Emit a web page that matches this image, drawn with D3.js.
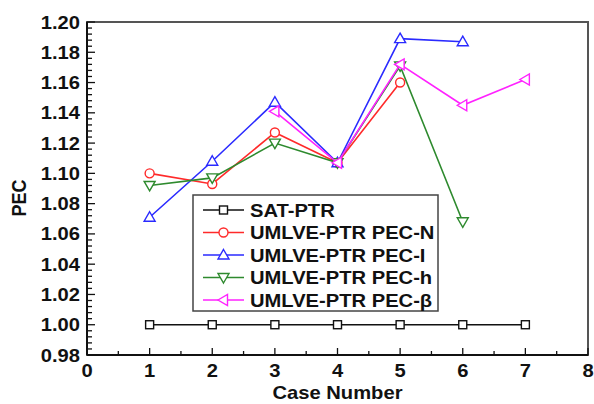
<!DOCTYPE html>
<html>
<head>
<meta charset="utf-8">
<script src="https://cdn.jsdelivr.net/npm/d3@7"></script>
<style>
  html, body { margin: 0; padding: 0; background: #fff; }
  svg { display: block; }
  text { font-family: "Liberation Sans", Arial, sans-serif; font-weight: bold; fill: #111; }
</style>
</head>
<body>
<svg id="chart" width="594" height="404"></svg>
<script>
// Case numbers and PEC values per configuration
const casesSAT = [1, 2, 3, 4, 5, 6, 7];
const valuesSAT = [1.000, 1.000, 1.000, 1.000, 1.000, 1.000, 1.000];

const casesN = [1, 2, 3, 4, 5];
const valuesN = [1.100, 1.093, 1.127, 1.107, 1.160];

const casesI = [1, 2, 3, 4, 5, 6];
const valuesI = [1.071, 1.108, 1.147, 1.107, 1.189, 1.187];

const casesH = [1, 2, 3, 4, 5, 6];
const valuesH = [1.092, 1.097, 1.120, 1.107, 1.171, 1.068];

const casesB = [3, 4, 5, 6, 7];
const valuesB = [1.141, 1.107, 1.172, 1.145, 1.162];

const seriesNames = ["SAT-PTR", "UMLVE-PTR PEC-N", "UMLVE-PTR PEC-I", "UMLVE-PTR PEC-h", "UMLVE-PTR PEC-\u03B2"];
const xTicks = [0, 1, 2, 3, 4, 5, 6, 7, 8];
const yTicks = [0.98, 1.00, 1.02, 1.04, 1.06, 1.08, 1.10, 1.12, 1.14, 1.16, 1.18, 1.20];

const series = [
  { name: seriesNames[0], xs: casesSAT, ys: valuesSAT, color: "#111111", marker: "square" },
  { name: seriesNames[1], xs: casesN, ys: valuesN, color: "#ff2a2a", marker: "circle" },
  { name: seriesNames[2], xs: casesI, ys: valuesI, color: "#2a2aff", marker: "up" },
  { name: seriesNames[3], xs: casesH, ys: valuesH, color: "#2e8a2e", marker: "down" },
  { name: seriesNames[4], xs: casesB, ys: valuesB, color: "#ff22ff", marker: "left" }
];

const margin = { left: 87, top: 22, right: 6, bottom: 49 };
const W = 594, H = 404;
const svg = d3.select("#chart");

const x = d3.scaleLinear().domain([0, 8]).range([margin.left, W - margin.right]);
const y = d3.scaleLinear().domain([0.98, 1.20]).range([H - margin.bottom, margin.top]);

const SX = 1.12; // horizontal stretch of the lettering

// plot frame
svg.append("rect")
  .attr("x", x(0)).attr("y", y(1.20))
  .attr("width", x(8) - x(0)).attr("height", y(0.98) - y(1.20))
  .attr("fill", "none").attr("stroke", "#555").attr("stroke-width", 2);

// y axis with inward ticks
const yMinor = d3.range(0, 56).map(i => 0.98 + i * 0.004).filter(v => v <= 1.2001);
svg.append("g").selectAll("line").data(yMinor).join("line")
  .attr("x1", x(0)).attr("x2", (d, i) => x(0) + (i % 5 === 0 ? 8 : 5))
  .attr("y1", d => y(d)).attr("y2", d => y(d))
  .attr("stroke", "#111").attr("stroke-width", 1.3);
svg.append("line").attr("x1", x(0)).attr("x2", x(0)).attr("y1", y(0.98)).attr("y2", y(1.2))
  .attr("stroke", "#111").attr("stroke-width", 2);

svg.append("g").selectAll("text").data(yTicks).join("text")
  .attr("transform", d => `translate(${x(0) - 7},${y(d) + 6.5}) scale(${SX},1)`)
  .attr("text-anchor", "end").attr("font-size", 18)
  .text(d => d3.format(".2f")(d));

// x axis with inward ticks
const xMinor = d3.range(0, 17).map(i => i * 0.5);
svg.append("g").selectAll("line").data(xMinor).join("line")
  .attr("x1", d => x(d)).attr("x2", d => x(d))
  .attr("y1", y(0.98)).attr("y2", (d, i) => y(0.98) - (i % 2 === 0 ? 7 : 4))
  .attr("stroke", "#111").attr("stroke-width", 1.3);
svg.append("line").attr("x1", x(0)).attr("x2", x(8)).attr("y1", y(0.98)).attr("y2", y(0.98))
  .attr("stroke", "#111").attr("stroke-width", 2);

svg.append("g").selectAll("text").data(xTicks).join("text")
  .attr("transform", d => `translate(${x(d)},${y(0.98) + 22}) scale(${SX},1)`)
  .attr("text-anchor", "middle").attr("font-size", 18)
  .text(d => d);

// axis titles
svg.append("text")
  .attr("transform", `translate(${(x(0) + x(8)) / 2},${H - 5}) scale(${SX},1)`)
  .attr("text-anchor", "middle").attr("font-size", 18)
  .text("Case Number");
svg.append("text")
  .attr("transform", `translate(26,198) rotate(-90) scale(1,${SX})`)
  .attr("text-anchor", "middle").attr("font-size", 18)
  .text("PEC");

// marker shapes
function drawMarker(g, type, cx, cy, color) {
  const s = 5;
  if (type === "square") {
    g.append("rect").attr("x", cx - 4).attr("y", cy - 4).attr("width", 8).attr("height", 8)
      .attr("fill", "#fff").attr("stroke", color).attr("stroke-width", 1.4);
  } else if (type === "circle") {
    g.append("circle").attr("cx", cx).attr("cy", cy).attr("r", 4.5)
      .attr("fill", "#fff").attr("stroke", color).attr("stroke-width", 1.4);
  } else {
    let pts;
    if (type === "up") pts = [[cx, cy - s - 0.5], [cx + s + 0.5, cy + s - 1], [cx - s - 0.5, cy + s - 1]];
    else if (type === "down") pts = [[cx, cy + s + 0.5], [cx + s + 0.5, cy - s + 1], [cx - s - 0.5, cy - s + 1]];
    else pts = [[cx - s - 0.5, cy], [cx + s - 1, cy - s - 0.5], [cx + s - 1, cy + s + 0.5]];
    g.append("polygon").attr("points", pts.map(p => p.join(",")).join(" "))
      .attr("fill", "#fff").attr("stroke", color).attr("stroke-width", 1.4);
  }
}

const line = d3.line().x(d => x(d[0])).y(d => y(d[1]));

series.forEach(s => {
  const pts = s.xs.map((c, i) => [c, s.ys[i]]);
  const g = svg.append("g");
  g.append("path").attr("d", line(pts)).attr("fill", "none")
    .attr("stroke", s.color).attr("stroke-width", 1.6);
  pts.forEach(p => drawMarker(g, s.marker, x(p[0]), y(p[1]), s.color));
});

// legend
const lg = svg.append("g");
lg.append("rect").attr("x", 193).attr("y", 195).attr("width", 245).attr("height", 116)
  .attr("fill", "#fff").attr("stroke", "#444").attr("stroke-width", 1.5);
series.forEach((s, i) => {
  const ly = 210 + i * 22.5;
  lg.append("line").attr("x1", 203).attr("x2", 244).attr("y1", ly).attr("y2", ly)
    .attr("stroke", s.color).attr("stroke-width", 1.6);
  drawMarker(lg, s.marker, 223.5, ly, s.color);
  lg.append("text")
    .attr("transform", `translate(250,${ly + 6.5}) scale(${SX},1)`)
    .attr("font-size", 18).text(s.name);
});
</script>
</body>
</html>
